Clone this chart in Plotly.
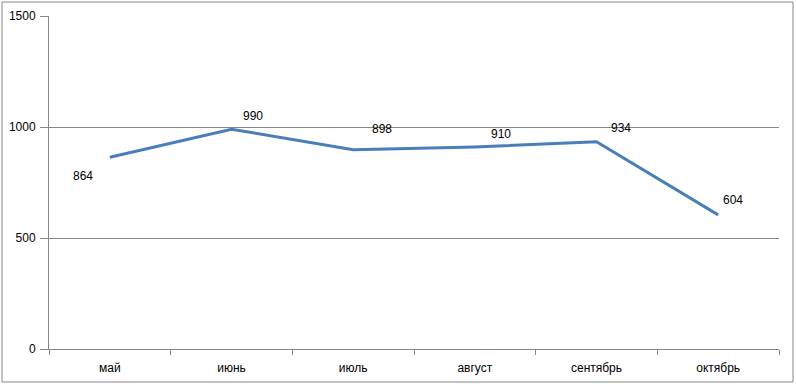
import plotly.graph_objects as go

months = ["май", "июнь", "июль", "август", "сентябрь", "октябрь"]
values = [864, 990, 898, 910, 934, 604]
y_ticks = [0, 500, 1000, 1500]

# label offsets in pixels (style only)
label_dx = [-27, 21, 29, 26, 24, 15]
label_dy = [-19, 13, 21, 13, 14, 15]

W, H = 796, 385
ML, MR, MT, MB = 49, 17, 16, 36
FONT = "Liberation Sans"
GRAY = "#868686"

fig = go.Figure()
fig.add_trace(go.Scatter(
    x=months, y=values, mode="lines",
    line=dict(color="#4A7EBB", width=3),
    hoverinfo="x+y", showlegend=False,
))

for m, v, dx, dy in zip(months, values, label_dx, label_dy):
    fig.add_annotation(
        x=m, y=v, text=str(v), showarrow=False,
        xshift=dx, yshift=dy,
        font=dict(family=FONT, size=12, color="#000000"),
    )

pw = W - ML - MR
ph = H - MT - MB
fig.add_shape(
    type="rect", xref="paper", yref="paper",
    x0=(2 - ML) / pw, x1=(793 - ML) / pw,
    y0=-(382 - MT - ph) / ph, y1=1 + (MT - 2) / ph,
    line=dict(color=GRAY, width=1), layer="below",
)

fig.update_layout(
    width=W, height=H,
    margin=dict(l=ML, r=MR, t=MT, b=MB, autoexpand=False),
    paper_bgcolor="white", plot_bgcolor="white",
    font=dict(family=FONT, size=12, color="#000000"),
    xaxis=dict(
        type="category", range=[-0.5, 5.5], automargin=False,
        showline=True, linecolor=GRAY, linewidth=1,
        ticks="outside", tickson="boundaries", ticklen=5, tickcolor=GRAY,
        showgrid=False, zeroline=False,
        ticklabelstandoff=8,
        tickfont=dict(family=FONT, size=12),
    ),
    yaxis=dict(
        range=[0, 1500], tickvals=y_ticks, automargin=False,
        showline=True, linecolor=GRAY, linewidth=1,
        ticks="outside", ticklen=8, tickcolor=GRAY,
        showgrid=True, gridcolor=GRAY, gridwidth=1,
        zeroline=False, ticklabelstandoff=2,
        tickfont=dict(family=FONT, size=12),
    ),
)

fig.write_html(
    "out.html",
    config={"displayModeBar": False},
    post_script="document.body.style.margin='0';document.body.style.overflow='hidden';",
)
